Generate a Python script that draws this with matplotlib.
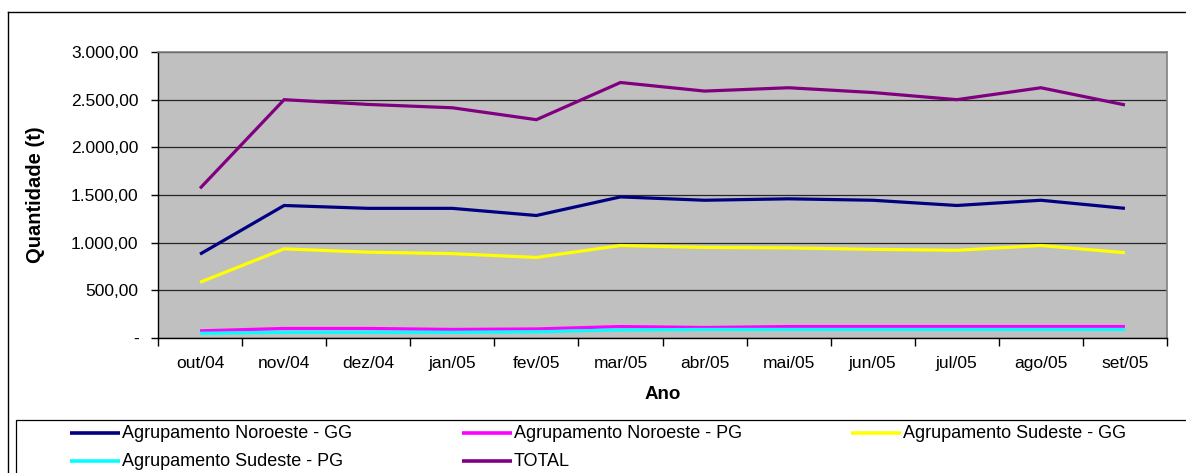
import matplotlib
matplotlib.use("Agg")
import matplotlib.pyplot as plt
from matplotlib.lines import Line2D
from matplotlib.patches import Rectangle
import numpy as np

plt.rcParams['font.family'] = ['Liberation Sans', 'DejaVu Sans']

months = ["out/04", "nov/04", "dez/04", "jan/05", "fev/05", "mar/05",
          "abr/05", "mai/05", "jun/05", "jul/05", "ago/05", "set/05"]

noroeste_gg = [880, 1390, 1360, 1360, 1285, 1480, 1445, 1460, 1445, 1390, 1445, 1360]
noroeste_pg = [75, 100, 100, 90, 95, 120, 110, 120, 120, 120, 120, 120]
sudeste_gg = [585, 935, 900, 885, 845, 970, 950, 945, 930, 920, 970, 895]
sudeste_pg = [50, 60, 60, 60, 65, 85, 90, 90, 90, 90, 90, 90]
total = [1570, 2500, 2450, 2415, 2290, 2680, 2590, 2625, 2575, 2500, 2625, 2445]

series_names = ["Agrupamento Noroeste - GG", "Agrupamento Noroeste - PG",
                "Agrupamento Sudeste - GG", "Agrupamento Sudeste - PG", "TOTAL"]
series_values = [noroeste_gg, noroeste_pg, sudeste_gg, sudeste_pg, total]
series_colors = ["#000080", "#FF00FF", "#FFFF00", "#00FFFF", "#800080"]

y_ticks = [0, 500, 1000, 1500, 2000, 2500, 3000]
y_tick_labels = ["-", "500,00", "1.000,00", "1.500,00", "2.000,00", "2.500,00", "3.000,00"]

W, H = 1186, 473
fig = plt.figure(figsize=(W / 100, H / 100), dpi=100)

def fx(px):
    return px / W

def fy(py):
    return 1 - py / H

# outer chart frame
fig.add_artist(Line2D([fx(8), fx(8)], [fy(12), fy(473)], color="black", lw=1.0))
fig.add_artist(Line2D([fx(8), fx(1186)], [fy(12), fy(12)], color="black", lw=1.0))

ax = fig.add_axes([fx(158), fy(338), fx(1167) - fx(158), fy(52) - fy(338)])
ax.set_facecolor("#C0C0C0")

x = np.arange(len(months))
for values, color in zip(series_values, series_colors):
    ax.plot(x, values, color=color, lw=2.3,
            solid_capstyle="butt", solid_joinstyle="miter", zorder=3)

ax.set_xlim(-0.5, len(months) - 0.5)
ax.set_ylim(0, 3000)

ax.set_yticks(y_ticks)
ax.set_yticklabels(y_tick_labels, fontsize=12.5)
ax.yaxis.grid(True, color="black", lw=0.9, alpha=0.8)
ax.set_axisbelow(True)

ax.set_xticks(x)
ax.set_xticklabels(months, fontsize=12.5)
ax.set_xticks(np.arange(-0.5, len(months)), minor=True)
ax.tick_params(axis="x", which="major", length=0, pad=13)
ax.tick_params(axis="x", which="minor", length=6, width=1, color="black", direction="out")
ax.tick_params(axis="y", length=5, width=1, color="black", direction="out", pad=9)

for side in ["top", "right"]:
    ax.spines[side].set_color("#808080")
    ax.spines[side].set_linewidth(1.2)
for side in ["left", "bottom"]:
    ax.spines[side].set_color("black")
    ax.spines[side].set_linewidth(1.0)

ax.set_ylabel("Quantidade (t)", fontsize=14.5, fontweight="bold", labelpad=19)
ax.set_xlabel("Ano", fontsize=13.5, fontweight="bold", labelpad=11)

# legend box with three columns
fig.add_artist(Rectangle((fx(16), fy(473) - 0.01), fx(1186) - fx(16) + 0.01,
                         fy(420) - fy(473) + 0.01, transform=fig.transFigure,
                         facecolor="white", edgecolor="black", lw=0.9))
col_x = [70, 462, 851]
row_y = [433, 461]
for i, (name, color) in enumerate(zip(series_names, series_colors)):
    cx = col_x[i % 3]
    cy = row_y[i // 3]
    fig.add_artist(Line2D([fx(cx), fx(cx + 50)], [fy(cy), fy(cy)],
                          color=color, lw=2.6, solid_capstyle="butt"))
    fig.text(fx(cx + 52), fy(cy), name, fontsize=13, va="center", ha="left")

fig.savefig("out.png", dpi=100)
